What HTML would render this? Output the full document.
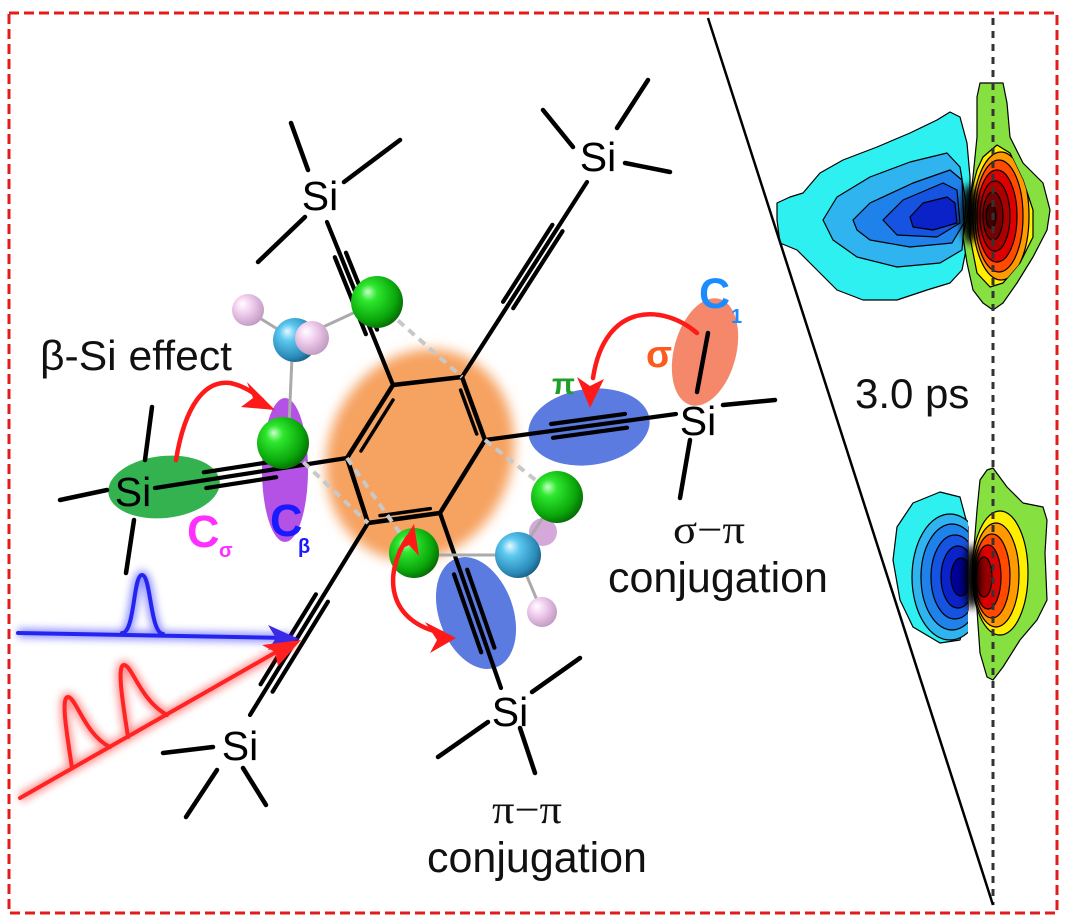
<!DOCTYPE html>
<html><head><meta charset="utf-8"><style>
html,body{margin:0;padding:0;background:#fff;}
svg{display:block;}
text{font-family:"Liberation Sans",Arial,sans-serif;}
</style></head><body>
<svg width="1065" height="922" viewBox="0 0 1065 922" xmlns="http://www.w3.org/2000/svg">
<defs>
<filter id="soft" x="-30%" y="-30%" width="160%" height="160%"><feGaussianBlur stdDeviation="6"/></filter>
<filter id="glow" x="-20%" y="-60%" width="140%" height="220%"><feGaussianBlur stdDeviation="4"/></filter>
<filter id="smudge" x="-100%" y="-50%" width="300%" height="200%"><feGaussianBlur stdDeviation="4"/></filter>
<radialGradient id="gG" cx="0.4" cy="0.4" r="0.65" fx="0.32" fy="0.3"><stop offset="0" stop-color="#c8ffc8"/><stop offset="0.25" stop-color="#2ee82e"/><stop offset="0.75" stop-color="#0aa60a"/><stop offset="1" stop-color="#066606"/></radialGradient>
<radialGradient id="gC" cx="0.4" cy="0.4" r="0.65" fx="0.32" fy="0.3"><stop offset="0" stop-color="#e6f8ff"/><stop offset="0.3" stop-color="#5cc8f0"/><stop offset="0.8" stop-color="#2a8ab8"/><stop offset="1" stop-color="#1a5a80"/></radialGradient>
<radialGradient id="gP" cx="0.4" cy="0.4" r="0.65" fx="0.32" fy="0.3"><stop offset="0" stop-color="#ffffff"/><stop offset="0.4" stop-color="#f2d0f0"/><stop offset="1" stop-color="#c098c0"/></radialGradient>
<clipPath id="clipL"><rect x="880" y="470" width="88" height="200"/></clipPath>
<clipPath id="clipR"><rect x="972" y="460" width="90" height="240"/></clipPath>
<clipPath id="clipTR"><path d="M983,157 L997,145 L1010,153 L1023,180 L1033,210 L1033,237 L1020,263 L1003,283 L990,287 L977,273 L970,237 L970,197 L977,170 Z"/></clipPath>
</defs>

<!-- border -->
<rect x="9" y="13" width="1048" height="900" fill="none" stroke="#e31b1b" stroke-width="3" stroke-dasharray="10,5"/>

<!-- orange glow -->
<ellipse cx="420" cy="455" rx="92" ry="108" transform="rotate(22 420 455)" fill="#f6a261" filter="url(#soft)"/>

<!-- orbital ellipses -->
<ellipse cx="164" cy="487" rx="56" ry="31" transform="rotate(-6 164 487)" fill="#33b24f"/>
<ellipse cx="285" cy="470" rx="23" ry="72" fill="#b452e6"/>
<ellipse cx="589" cy="427" rx="61" ry="38" transform="rotate(-8 589 427)" fill="#5b7be0"/>
<ellipse cx="476" cy="613" rx="37" ry="58" transform="rotate(-20 476 613)" fill="#5b7be0"/>
<ellipse cx="705" cy="352" rx="31" ry="55" transform="rotate(15 705 352)" fill="#f5876a"/>

<!-- ring -->
<g stroke="#000" stroke-width="4.5" fill="none" stroke-linecap="round" stroke-linejoin="round">
<polygon points="393,385 462,377 485,440 440,513 368,523 347,458"/>
<line x1="393" y1="400" x2="361" y2="451" stroke-width="3.5"/>
<line x1="460.6" y1="390" x2="476.7" y2="434" stroke-width="3.5"/>
<line x1="430.3" y1="508.6" x2="380" y2="515.6" stroke-width="3.5"/>
</g>

<!-- substituent bonds -->
<g stroke="#000" stroke-width="4.2" stroke-linecap="round" fill="none">
<line x1="393" y1="385" x2="327" y2="222"/>
<line x1="346" y1="252.7" x2="377.1" y2="329.7"/>
<line x1="334.8" y1="257.2" x2="365.9" y2="334.2"/>

<line x1="462" y1="377" x2="587" y2="182"/>
<line x1="513.2" y1="308.2" x2="562.5" y2="231.2"/>
<line x1="503.1" y1="301.8" x2="552.4" y2="224.8"/>

<line x1="485" y1="440" x2="676" y2="414"/>
<line x1="553" y1="437.8" x2="627" y2="427.7"/>
<line x1="551" y1="424" x2="625" y2="413.9"/>

<line x1="440" y1="513" x2="501" y2="688"/>
<line x1="467.2" y1="569.7" x2="494.4" y2="647.7"/>
<line x1="454" y1="574.3" x2="481.2" y2="652.3"/>

<line x1="368" y1="523" x2="250" y2="715"/>
<line x1="327.9" y1="601.7" x2="272.6" y2="691.7"/>
<line x1="315.9" y1="594.3" x2="260.6" y2="684.3"/>

<line x1="347" y1="458" x2="155" y2="488"/>
<line x1="276.2" y1="477.2" x2="206.2" y2="488.1"/>
<line x1="273.8" y1="461.4" x2="203.8" y2="472.3"/>
</g>

<!-- methyls -->
<g stroke="#000" stroke-width="4.5" stroke-linecap="round">
<line x1="291" y1="123" x2="308" y2="170"/><line x1="344" y1="182" x2="400" y2="140"/><line x1="258" y1="262" x2="305" y2="217"/>
<line x1="543" y1="110" x2="573" y2="147"/><line x1="648" y1="80" x2="617" y2="128"/><line x1="625" y1="163" x2="670" y2="172"/>
<line x1="708" y1="333" x2="697" y2="392"/><line x1="723" y1="405" x2="775" y2="400"/><line x1="690" y1="440" x2="680" y2="498"/>
<line x1="532" y1="692" x2="580" y2="658"/><line x1="438" y1="757" x2="488" y2="722"/><line x1="520" y1="728" x2="535" y2="773"/>
<line x1="163" y1="753" x2="213" y2="747"/><line x1="217" y1="770" x2="186" y2="817"/><line x1="243" y1="768" x2="266" y2="805"/>
<line x1="60" y1="500" x2="107" y2="490"/><line x1="152" y1="407" x2="145" y2="460"/><line x1="134" y1="520" x2="126" y2="573"/>
</g>

<!-- Si labels -->
<g font-size="41" fill="#000" text-anchor="middle">
<text x="320" y="210">Si</text>
<text x="598" y="171">Si</text>
<text x="698" y="435">Si</text>
<text x="510" y="726">Si</text>
<text x="240" y="760">Si</text>
<text x="133" y="506">Si</text>
</g>

<!-- ball & stick -->
<g stroke="#aaa" stroke-width="3" fill="none">
<line x1="295" y1="340" x2="377" y2="302"/>
<line x1="292" y1="357" x2="289" y2="425"/>
<line x1="295" y1="340" x2="250" y2="312"/>
<line x1="518" y1="555" x2="437" y2="555"/>
<line x1="518" y1="555" x2="542" y2="612"/>
</g>
<g stroke="#c8c8c8" stroke-width="4" stroke-dasharray="8,6" fill="none">
<line x1="377" y1="302" x2="462" y2="377"/>
<line x1="283" y1="443" x2="368" y2="523"/>
<line x1="347" y1="458" x2="414" y2="553"/>
<line x1="485" y1="440" x2="557" y2="497"/>
</g>
<circle cx="248" cy="310" r="16" fill="url(#gP)"/>
<circle cx="295" cy="340" r="22" fill="url(#gC)"/>
<circle cx="312" cy="338" r="17" fill="url(#gP)"/>
<circle cx="377" cy="302" r="26" fill="url(#gG)"/>
<circle cx="283" cy="443" r="26" fill="url(#gG)"/>
<circle cx="414" cy="553" r="25" fill="url(#gG)"/>
<circle cx="543" cy="532" r="14" fill="#d4a8d8"/>
<line x1="518" y1="555" x2="557" y2="497" stroke="#aaa" stroke-width="3"/>
<circle cx="557" cy="497" r="26" fill="url(#gG)"/>
<circle cx="518" cy="555" r="23" fill="url(#gC)"/>
<circle cx="542" cy="612" r="15" fill="url(#gP)"/>

<!-- colored labels -->
<text x="40" y="370" font-size="42" fill="#111" textLength="192" lengthAdjust="spacingAndGlyphs">β-Si effect</text>
<text x="187" y="547" font-size="45" font-weight="bold" fill="#ff30ff">C</text>
<text x="219" y="557" font-size="20" font-weight="bold" fill="#ff30ff">σ</text>
<text x="270" y="536" font-size="45" font-weight="bold" fill="#1a1aff">C</text>
<text x="298" y="553" font-size="20" font-weight="bold" fill="#1a1aff">β</text>
<text x="699" y="308" font-size="43" font-weight="bold" fill="#1a8cff">C</text>
<text x="731" y="323" font-size="20" font-weight="bold" fill="#1a8cff">1</text>
<text x="646" y="367" font-size="38" font-weight="bold" fill="#ff5a1e">σ</text>
<text x="552" y="394" font-size="30" font-weight="bold" fill="#1f9e2a">π</text>

<!-- red arrows -->
<g fill="none" stroke="#ff1a1a" stroke-width="4.5" stroke-linecap="round">
<path d="M176,460 C185,405 205,380 230,383 C245,386 255,394 262,400"/>
<path d="M697,333 C665,305 605,300 593,378"/>
<path d="M408,537 C382,575 388,622 442,633"/>
</g>
<g fill="#ff1a1a">
<polygon points="275,410 247,382 253,398 241,407"/>
<polygon points="590,408 577,377 590,386 604,379"/>
<polygon points="414,524 419,556 409,545 397,551"/>
<polygon points="456,638 430,653 437,640 425,622"/>
</g>

<!-- light pulses -->
<g filter="url(#glow)" opacity="0.55" fill="none" stroke-width="9">
<path d="M18,633 L293,638 M122,633 C135,633 133,575 142,575 C151,575 150,633 163,634" stroke="#3030ff"/>
<path d="M20,798 L295,642 M72,768 C68,740 60,697 68,697 C76,697 85,735 110,747 M128,737 C124,710 116,665 124,665 C132,665 140,700 167,715" stroke="#ff3030"/>
</g>
<g fill="none" stroke-width="4" stroke-linecap="round">
<path d="M18,633 L290,638 M122,633 C135,633 133,575 142,575 C151,575 150,633 163,634" stroke="#2424f0"/>
<path d="M20,798 L292,643 M72,768 C68,740 60,697 68,697 C76,697 85,735 110,747 M128,737 C124,710 116,665 124,665 C132,665 140,700 167,715" stroke="#ff2424"/>
</g>
<polygon points="299,639 268,625 276,638 268,650" fill="#3a2ae8"/>
<polygon points="301,640 262,645 275,652 278,666" fill="#ff2020"/>

<!-- bottom texts -->
<text x="709" y="543" font-size="40" text-anchor="middle" fill="#111" textLength="72" lengthAdjust="spacingAndGlyphs" style="font-family:'Liberation Serif',serif">σ−π</text>
<text x="718" y="592" font-size="43" text-anchor="middle" fill="#111">conjugation</text>
<text x="527" y="823" font-size="40" text-anchor="middle" fill="#111" textLength="70" lengthAdjust="spacingAndGlyphs" style="font-family:'Liberation Serif',serif">π−π</text>
<text x="537" y="872" font-size="43" text-anchor="middle" fill="#111">conjugation</text>

<!-- contour top -->
<g stroke="#000" stroke-width="1.2" stroke-linejoin="round">
<path d="M777,203 L790,197 L803,193 L820,173 L843,160 L877,147 L910,133 L937,120 L950,112 L960,117 L967,143 L970,177 L970,203 L968,240 L962,270 L950,283 L927,290 L897,300 L863,300 L837,290 L817,270 L797,250 L780,243 L777,220 Z" fill="#2ef0f0"/>
<path d="M823,220 L837,197 L870,177 L910,162 L947,153 L960,167 L966,203 L962,250 L940,263 L897,267 L857,257 L833,240 Z" fill="#2fb4f0"/>
<path d="M853,220 L870,203 L913,183 L950,170 L962,180 L964,223 L952,243 L910,247 L870,240 L857,230 Z" fill="#1f82ea"/>
<path d="M883,220 L903,200 L943,183 L957,190 L960,223 L937,237 L897,235 Z" fill="#1553e0"/>
<path d="M910,217 L923,203 L947,197 L955,203 L957,223 L933,230 L913,227 Z" fill="#0a22c8"/>
<path d="M980,83 L1003,83 L1007,103 L1010,137 L1023,163 L1043,183 L1050,210 L1047,230 L1033,257 L1017,283 L1003,303 L993,310 L983,303 L973,290 L967,263 L963,237 L970,203 L973,177 L977,137 L977,97 Z" fill="#86e040"/>
<path d="M983,157 L997,145 L1010,153 L1023,180 L1033,210 L1033,237 L1020,263 L1003,283 L990,287 L977,273 L970,237 L970,197 L977,170 Z" fill="#ffee00"/>
<g clip-path="url(#clipTR)">
<ellipse cx="1001" cy="216" rx="28" ry="64" fill="#ff9a00"/>
<ellipse cx="999" cy="216" rx="24" ry="56" fill="#ff4a00"/>
<ellipse cx="997" cy="216" rx="20" ry="46" fill="#dd0000"/>
<ellipse cx="995" cy="216" rx="15" ry="35" fill="#aa0000"/>
<ellipse cx="993" cy="216" rx="10" ry="24" fill="#770000"/>
<ellipse cx="991" cy="216" rx="5" ry="12" fill="#440000"/>
</g>
</g>
<ellipse cx="970" cy="214" rx="9" ry="30" fill="#000" filter="url(#smudge)"/>

<!-- contour bottom -->
<g stroke="#000" stroke-width="1.2" stroke-linejoin="round">
<path d="M897,527 L913,503 L940,492 L960,497 L968,527 L968,610 L960,640 L940,643 L913,627 L900,600 L893,560 Z" fill="#2ef0f0"/>
<g clip-path="url(#clipL)">
<ellipse cx="950" cy="577" rx="38" ry="63" fill="#2fb4f0"/>
<ellipse cx="952" cy="577" rx="31" ry="53" fill="#1f82ea"/>
<ellipse cx="955" cy="577" rx="24" ry="42" fill="#1553e0"/>
<ellipse cx="958" cy="577" rx="17" ry="31" fill="#0a22c8"/>
<ellipse cx="961" cy="577" rx="10" ry="19" fill="#00009a"/>
</g>
<path d="M987,470 L993,468 L1007,487 L1023,503 L1043,507 L1047,520 L1045,553 L1047,600 L1037,620 L1020,640 L1003,667 L993,680 L987,677 L980,653 L977,610 L973,560 L977,510 L980,480 Z" fill="#86e040"/>
<g clip-path="url(#clipR)">
<ellipse cx="1000" cy="573" rx="28" ry="62" fill="#ffee00"/>
<ellipse cx="996" cy="575" rx="23" ry="52" fill="#ff9a00"/>
<ellipse cx="992" cy="576" rx="18" ry="42" fill="#ff4a00"/>
<ellipse cx="988" cy="577" rx="13" ry="32" fill="#dd0000"/>
<ellipse cx="984" cy="577" rx="8" ry="20" fill="#990000"/>
</g>
</g>
<ellipse cx="972" cy="577" rx="8" ry="32" fill="#000" filter="url(#smudge)"/>

<!-- right panel lines -->
<line x1="993" y1="18" x2="993" y2="905" stroke="#333" stroke-width="3" stroke-dasharray="7,6"/>
<line x1="708" y1="18" x2="993" y2="905" stroke="#000" stroke-width="2.5"/>
<text x="855" y="408" font-size="42" fill="#111">3.0 ps</text>
</svg>
</body></html>
